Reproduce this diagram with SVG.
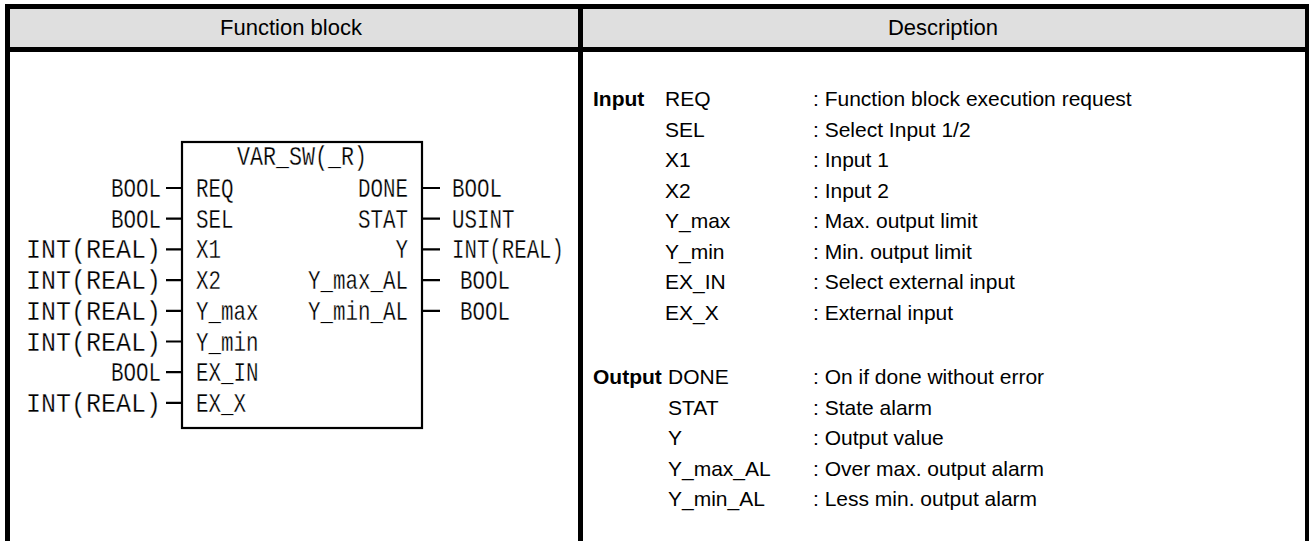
<svg xmlns="http://www.w3.org/2000/svg" width="1309" height="541" viewBox="0 0 1309 541">
<style>
.hdr{font-family:"Liberation Sans",Arial,sans-serif;font-size:22px;fill:#000;text-anchor:middle}
.mono{font-family:"Liberation Mono","DejaVu Sans Mono",monospace;font-size:28px;fill:#000;stroke:#fff;stroke-width:0.3px}
.d{font-family:"Liberation Sans",Arial,sans-serif;font-size:21px;fill:#000}
.b{font-weight:bold}
.pin{stroke:#000;stroke-width:2.2;fill:none}
</style>
<rect width="1309" height="541" fill="#fff"/>
<g id="table">
  <rect x="10" y="9" width="1296" height="38" fill="#dfdfdf"/>
  <rect x="5" y="4" width="1304" height="5" fill="#000"/>
  <rect x="5" y="47" width="1304" height="5" fill="#000"/>
  <rect x="5" y="4" width="5" height="537" fill="#000"/>
  <rect x="578" y="4" width="5" height="537" fill="#000"/>
  <rect x="1305" y="4" width="4" height="537" fill="#000"/>
  <text class="hdr" x="291" y="35">Function block</text>
  <text class="hdr" x="943" y="35">Description</text>
</g>
<g id="fb_VAR_SW">
  <rect x="182" y="142" width="240" height="286" fill="none" stroke="#000" stroke-width="2.2"/>
  <text class="mono" x="237" y="165" textLength="130" lengthAdjust="spacingAndGlyphs">VAR_SW(_R)</text>
  <text class="mono" x="196" y="197" textLength="37.5" lengthAdjust="spacingAndGlyphs">REQ</text>
  <text class="mono" x="196" y="227.7" textLength="37.5" lengthAdjust="spacingAndGlyphs">SEL</text>
  <text class="mono" x="196" y="258.4" textLength="25" lengthAdjust="spacingAndGlyphs">X1</text>
  <text class="mono" x="196" y="289.1" textLength="25" lengthAdjust="spacingAndGlyphs">X2</text>
  <text class="mono" x="196" y="319.8" textLength="62.5" lengthAdjust="spacingAndGlyphs">Y_max</text>
  <text class="mono" x="196" y="350.5" textLength="62.5" lengthAdjust="spacingAndGlyphs">Y_min</text>
  <text class="mono" x="196" y="381.2" textLength="62.5" lengthAdjust="spacingAndGlyphs">EX_IN</text>
  <text class="mono" x="196" y="411.9" textLength="50" lengthAdjust="spacingAndGlyphs">EX_X</text>
  <text class="mono" x="358" y="197" textLength="50" lengthAdjust="spacingAndGlyphs">DONE</text>
  <text class="mono" x="358" y="227.7" textLength="50" lengthAdjust="spacingAndGlyphs">STAT</text>
  <text class="mono" x="395.5" y="258.4" textLength="12.5" lengthAdjust="spacingAndGlyphs">Y</text>
  <text class="mono" x="308" y="289.1" textLength="100" lengthAdjust="spacingAndGlyphs">Y_max_AL</text>
  <text class="mono" x="308" y="319.8" textLength="100" lengthAdjust="spacingAndGlyphs">Y_min_AL</text>
</g>
<g id="fb_types">
  <text class="mono" x="111" y="197" textLength="50" lengthAdjust="spacingAndGlyphs">BOOL</text>
  <text class="mono" x="111" y="227.7" textLength="50" lengthAdjust="spacingAndGlyphs">BOOL</text>
  <text class="mono" x="26" y="258.4" textLength="135" lengthAdjust="spacingAndGlyphs">INT(REAL)</text>
  <text class="mono" x="26" y="289.1" textLength="135" lengthAdjust="spacingAndGlyphs">INT(REAL)</text>
  <text class="mono" x="26" y="319.8" textLength="135" lengthAdjust="spacingAndGlyphs">INT(REAL)</text>
  <text class="mono" x="26" y="350.5" textLength="135" lengthAdjust="spacingAndGlyphs">INT(REAL)</text>
  <text class="mono" x="111" y="381.2" textLength="50" lengthAdjust="spacingAndGlyphs">BOOL</text>
  <text class="mono" x="26" y="411.9" textLength="135" lengthAdjust="spacingAndGlyphs">INT(REAL)</text>
  <text class="mono" x="452" y="197" textLength="50" lengthAdjust="spacingAndGlyphs">BOOL</text>
  <text class="mono" x="452" y="227.7" textLength="62.5" lengthAdjust="spacingAndGlyphs">USINT</text>
  <text class="mono" x="452" y="258.4" textLength="112" lengthAdjust="spacingAndGlyphs">INT(REAL)</text>
  <text class="mono" x="460" y="289.1" textLength="50" lengthAdjust="spacingAndGlyphs">BOOL</text>
  <text class="mono" x="460" y="319.8" textLength="50" lengthAdjust="spacingAndGlyphs">BOOL</text>
</g>
<g id="connectors">
  <path class="pin" d="M166 188H182M166 218.7H182M166 249.4H182M166 280.1H182M166 310.8H182M166 341.5H182M166 372.2H182M166 402.9H182"/>
  <path class="pin" d="M422 188H440M422 218.7H440M422 249.4H440M422 280.1H440M422 310.8H440"/>
</g>
<g id="description">
  <text class="d b" x="593" y="106">Input</text>
  <text class="d" x="665" y="106">REQ</text><text class="d" x="813" y="106">: Function block execution request</text>
  <text class="d" x="665" y="136.5">SEL</text><text class="d" x="813" y="136.5">: Select Input 1/2</text>
  <text class="d" x="665" y="167">X1</text><text class="d" x="813" y="167">: Input 1</text>
  <text class="d" x="665" y="197.5">X2</text><text class="d" x="813" y="197.5">: Input 2</text>
  <text class="d" x="665" y="228">Y_max</text><text class="d" x="813" y="228">: Max. output limit</text>
  <text class="d" x="665" y="258.5">Y_min</text><text class="d" x="813" y="258.5">: Min. output limit</text>
  <text class="d" x="665" y="289">EX_IN</text><text class="d" x="813" y="289">: Select external input</text>
  <text class="d" x="665" y="319.5">EX_X</text><text class="d" x="813" y="319.5">: External input</text>
  <text class="d b" x="593" y="384">Output</text>
  <text class="d" x="668" y="384">DONE</text><text class="d" x="813" y="384">: On if done without error</text>
  <text class="d" x="668" y="414.5">STAT</text><text class="d" x="813" y="414.5">: State alarm</text>
  <text class="d" x="668" y="445">Y</text><text class="d" x="813" y="445">: Output value</text>
  <text class="d" x="668" y="475.5">Y_max_AL</text><text class="d" x="813" y="475.5">: Over max. output alarm</text>
  <text class="d" x="668" y="506">Y_min_AL</text><text class="d" x="813" y="506">: Less min. output alarm</text>
</g>
</svg>
